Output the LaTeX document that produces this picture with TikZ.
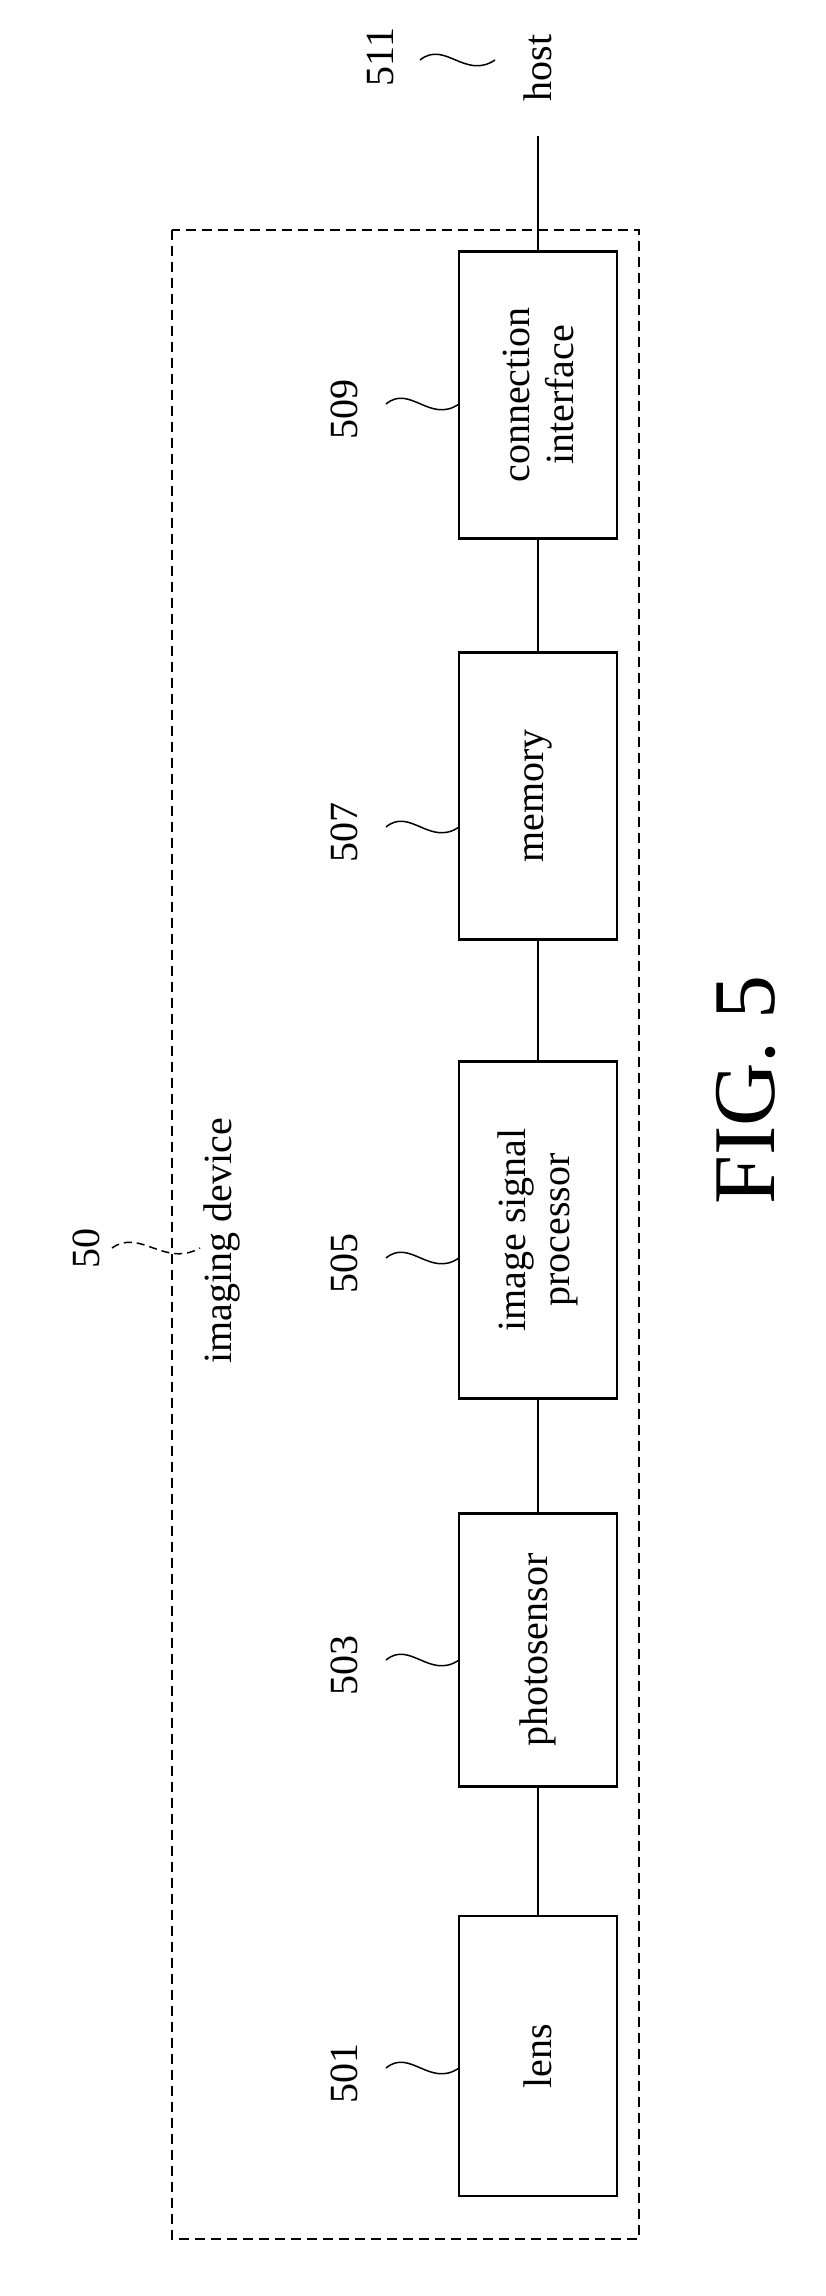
\documentclass[tikz,border=0pt]{standalone}
\usepackage{fontspec}
\setmainfont{Liberation Serif}
\begin{document}
\begin{tikzpicture}[
  x=1pt, y=-1pt,
  font=\fontsize{40}{44}\selectfont,
  block/.style={draw, line width=2.5pt, minimum height=158pt, inner sep=2pt, align=center, rotate=90},
  wire/.style={line width=2.5pt},
  lbl/.style={rotate=90, inner sep=0pt},
  lead/.style={line width=1.5pt}
]
\useasboundingbox (0,0) rectangle (826,2296);

% frame of the device
\draw[dash pattern=on 10pt off 6pt, line width=1.5pt] (172,230) rectangle (639,2239);

% blocks
\node[block, minimum width=280pt] (lens) at (538,2056) {lens};
\node[block, minimum width=273pt] (sensor) at (538,1650) {photosensor};
\node[block, minimum width=337pt] (isp) at (538,1230) {image signal\\processor};
\node[block, minimum width=287pt] (mem) at (538,796) {memory};
\node[block, minimum width=287pt] (conn) at (538,395) {connection\\interface};
\coordinate (hostend) at (538,136);

% connections
\draw[wire] (lens) -- (sensor);
\draw[wire] (sensor) -- (isp);
\draw[wire] (isp) -- (mem);
\draw[wire] (mem) -- (conn);
\draw[wire] (conn) -- (hostend);
\node[lbl] (host) at (538,68) {host};

% reference numerals
\foreach \name/\num/\y in {l501/501/2073, l503/503/1665, l505/505/1263, l507/507/832, l509/509/409}{
  \node[lbl] (\name) at (344,\y) {\num};
  \draw[lead] (386,\y-5) .. controls (410,\y-25) and (430,\y+15) .. (459,\y-5);
}
\node[lbl] (l511) at (380,57) {511};
\draw[lead] (420,60) .. controls (445,40) and (465,80) .. (495,60);

\node[lbl] (devlbl) at (222,1241) {imaging device};
\node[lbl] (l50) at (86,1248) {50};
\draw[lead, dash pattern=on 8pt off 5pt] (112,1248) .. controls (140,1228) and (165,1268) .. (200,1248);

\node[lbl, font=\fontsize{88}{92}\selectfont] (fig) at (746,1090) {FIG. 5};
\end{tikzpicture}
\end{document}
